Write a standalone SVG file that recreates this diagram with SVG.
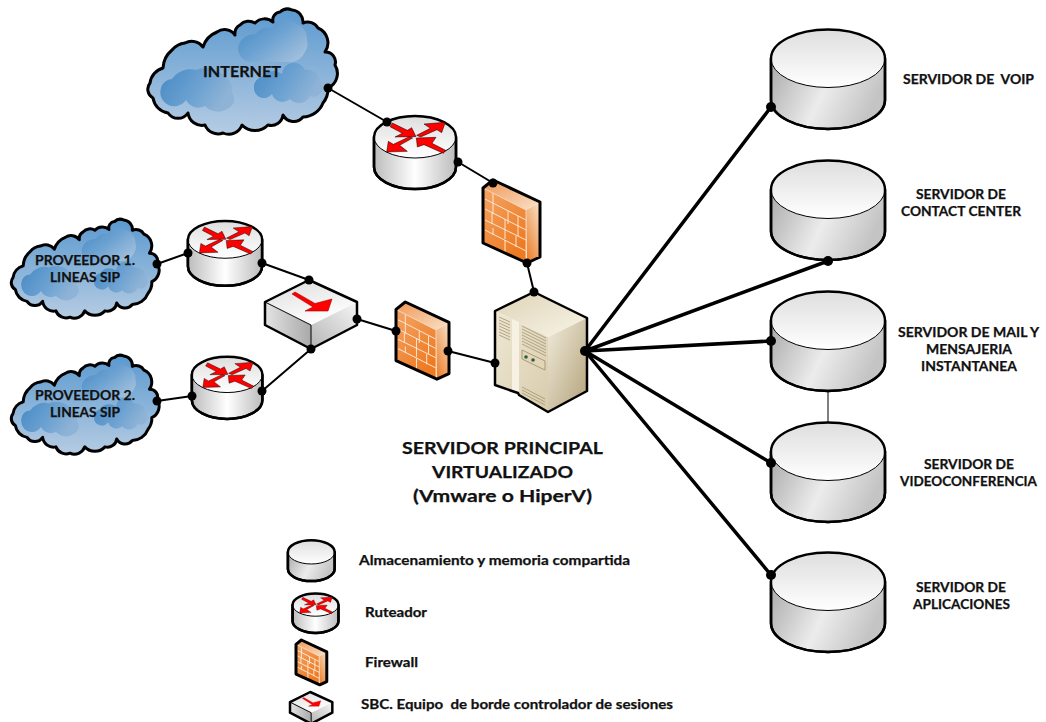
<svg xmlns="http://www.w3.org/2000/svg" width="1046" height="722" viewBox="0 0 1046 722">
<style>
.t{font-family:Lato,"Open Sans","Liberation Sans",sans-serif;font-weight:700;fill:#111;stroke:#111;stroke-width:.25;white-space:pre}
.s13{font-size:13px}.s17{font-size:17px}.s16{font-size:16px}
.ol{stroke:#000;stroke-width:2.5;stroke-linejoin:round;vector-effect:non-scaling-stroke}
.thin{stroke:#000;stroke-width:1;fill:none;vector-effect:non-scaling-stroke}
.c2{stroke:#000;stroke-width:2;fill:none}
.c4{stroke:#000;stroke-width:3.5;fill:none}
.dot{fill:#000}
.brick{stroke:#fde6cf;stroke-width:1;fill:none;vector-effect:non-scaling-stroke}
.vent{stroke:#a2946f;stroke-width:.8;fill:none}
</style>
<defs>
<linearGradient id="cylBody" x1="0" y1="0" x2="1" y2=".3"><stop offset="0" stop-color="#a9a9a9"/><stop offset=".55" stop-color="#ececec"/><stop offset="1" stop-color="#c4c4c4"/></linearGradient>
<linearGradient id="cylTop" x1="0" y1="0" x2="0" y2="1"><stop offset="0" stop-color="#dedede"/><stop offset="1" stop-color="#fff"/></linearGradient>
<linearGradient id="rtBody" x1="0" y1="0" x2="1" y2="0"><stop offset="0" stop-color="#bcbcbc"/><stop offset=".5" stop-color="#fff"/><stop offset="1" stop-color="#bcbcbc"/></linearGradient>
<linearGradient id="cloudBg" x1="0" y1="0" x2="0" y2="1"><stop offset="0" stop-color="#5b99cf"/><stop offset="1" stop-color="#b6cce3"/></linearGradient>
<linearGradient id="blob" x1="0" y1="0" x2="1" y2=".8"><stop offset="0" stop-color="#4689c3"/><stop offset=".5" stop-color="#6ca2d2"/><stop offset="1" stop-color="#a3c0dc"/></linearGradient>
<linearGradient id="blob2" x1="0" y1="0" x2="1" y2=".4"><stop offset="0" stop-color="#4689c3"/><stop offset=".6" stop-color="#6ca2d2"/><stop offset="1" stop-color="#8fb3d6"/></linearGradient>
<linearGradient id="fwFront" x1="0" y1="0" x2=".6" y2="1"><stop offset="0" stop-color="#f3a566"/><stop offset="1" stop-color="#ee7a22"/></linearGradient>
<linearGradient id="fwSide" x1=".2" y1="1" x2=".8" y2="0"><stop offset="0" stop-color="#ee7f2c"/><stop offset="1" stop-color="#f5dcc0"/></linearGradient>
<linearGradient id="fwTop" x1="0" y1="0" x2="1" y2="1"><stop offset="0" stop-color="#f19653"/><stop offset="1" stop-color="#f8e2cb"/></linearGradient>
<linearGradient id="sbTop" x1="0" y1="0" x2=".5" y2="1"><stop offset="0" stop-color="#dcdcdc"/><stop offset="1" stop-color="#fff"/></linearGradient>
<linearGradient id="sbLeft" x1="0" y1="0" x2="1" y2="0"><stop offset="0" stop-color="#e4e4e4"/><stop offset="1" stop-color="#a9a9a9"/></linearGradient>
<linearGradient id="sbRight" x1="0" y1="1" x2="1" y2="0"><stop offset="0" stop-color="#b5b5b5"/><stop offset="1" stop-color="#f6f6f6"/></linearGradient>
<linearGradient id="svTop" x1="0" y1="0" x2="1" y2="1"><stop offset="0" stop-color="#ded3b6"/><stop offset="1" stop-color="#f8f4e8"/></linearGradient>
<linearGradient id="svLeft" x1="0" y1="0" x2="1" y2="1"><stop offset="0" stop-color="#efe8d6"/><stop offset="1" stop-color="#d8ccab"/></linearGradient>
<linearGradient id="svRight" x1="0" y1="0" x2="1" y2="1"><stop offset="0" stop-color="#f1ebdb"/><stop offset="1" stop-color="#b3a27a"/></linearGradient>

<g id="cyl">
<path class="ol" fill="url(#cylBody)" d="M1,29.5V71A57,29 0 0 0 115,71V29.5Z"/>
<ellipse class="ol" style="stroke-width:1" fill="url(#cylTop)" cx="58" cy="29.5" rx="57" ry="29"/>
<path class="ol" fill="none" d="M1,29.5A57,29 0 0 1 115,29.5V71A57,29 0 0 1 1,71Z"/>
</g>

<g id="router">
<path class="ol" fill="url(#rtBody)" d="M1,22V52A41,22 0 0 0 83,52V22Z"/>
<ellipse class="ol" style="stroke-width:1" fill="url(#cylTop)" cx="42" cy="22" rx="41" ry="21"/>
<path class="ol" fill="none" d="M1,22A41,21 0 0 1 83,22V52A41,22 0 0 1 1,52Z"/>
<g transform="scale(.3333) translate(-699 -345)" fill="#f00" stroke="#000" stroke-width="1.500" stroke-linejoin="miter">
<polygon points="757,369 802,391 815,383 828,410 765,411 787,400 750,380"/>
<polygon points="830,406 871,385 852,372 916,367 905,398 891,389 842,411"/>
<polygon points="818,414 779,436 802,454 740,456 745,424 760,433 808,410"/>
<polygon points="917,451 876,430 888,412 829,414 832,441 852,434 910,460"/>
</g>
</g>

<g id="fw">
<path fill="url(#fwFront)" d="M0,8L43,30V82L0,63Z"/>
<path fill="url(#fwSide)" d="M43,30L57,22V77L44,83Z"/>
<path fill="url(#fwTop)" d="M0,8L10,0L57,22L43,30Z"/>
<path class="brick" d="M2,19L43,40M2,29L43,50M2,40L43,60M2,50L43,71M10,13V34M25,31V44M35,36V56M9,33V44M22,39V59M10,55V48M33,56V67M22,60V75"/>
<path class="thin" style="stroke:#f6d3b2" d="M43,30V82M0,8L43,30"/>
<path class="ol" style="stroke-width:3" fill="none" d="M0,8L10,0L57,22V77L44,83L0,63Z"/>
</g>

<g id="sbc">
<path fill="url(#sbLeft)" d="M0,22L46,45V69L0,45Z"/>
<path fill="url(#sbRight)" d="M46,45L92,22V45L46,69Z"/>
<path fill="url(#sbTop)" d="M0,22L44,0L92,22L46,45Z"/>
<path class="thin" d="M0,22L46,45V69"/>
<path class="ol" fill="none" d="M0,22L44,0L92,22V45L46,69L0,45Z"/>
<polygon fill="#f00" stroke="#a00" stroke-width=".6" points="27,14 30,12 50,23.500 67,19 63,31 40,31 48,27"/>
</g>

<g id="cloud">
<path class="ol" style="stroke-width:3" fill="url(#cloudBg)" d="M150,83A18,18 0 0 1 163,68A25,25 0 0 1 172,50A20,20 0 0 1 185,43A14,14 0 0 1 203,47A24,24 0 0 1 217,32A13,13 0 0 1 235,35A10,10 0 0 1 240,25A12,12 0 0 1 255,23A13,13 0 0 1 273,22A8,8 0 0 1 280,12A11,11 0 0 1 292,10A12,12 0 0 1 303,23A12,12 0 0 1 318,28A16,16 0 0 1 325,52A10,10 0 0 1 335,65A16,16 0 0 1 328,88A22,22 0 0 1 323,103A22,22 0 0 1 303,117A12,12 0 0 1 283,115A12,12 0 0 1 268,125A18,18 0 0 1 242,125A14,14 0 0 1 223,133A14,14 0 0 1 205,125A14,14 0 0 1 188,113A12,12 0 0 1 168,113A18,18 0 0 1 153,98A10,10 0 0 1 150,83Z"/>
<path fill="url(#blob)" d="M238,48A17,17 0 0 1 256,34A14,14 0 0 1 272,28A10,10 0 0 1 285,22A12,12 0 0 1 297,24A16,16 0 0 1 307,40A14,14 0 0 1 305,52A18,18 0 0 1 292,62L252,62A14,14 0 0 1 238,48Z"/>
<path fill="url(#blob2)" d="M161,88A12,12 0 0 1 172,79A22,22 0 0 1 196,70A26,26 0 0 1 226,78A14,14 0 0 1 232,92A16,16 0 0 1 234,102A18,18 0 0 1 205,106A14,14 0 0 1 186,100A14,14 0 0 1 161,88Z"/>
<path fill="url(#blob2)" d="M254,87A10,10 0 0 1 262,77A14,14 0 0 1 282,74A12,12 0 0 1 305,70A14,14 0 0 1 321,83A9,9 0 0 1 310,96A12,12 0 0 1 290,99A11,11 0 0 1 272,94A10,10 0 0 1 254,87Z"/>
</g>
</defs>

<g id="internet"><use href="#cloud"/><text class="t s16" x="203" y="77" textLength="78" lengthAdjust="spacingAndGlyphs">INTERNET</text></g>
<g id="proveedor1"><use href="#cloud" transform="translate(13 220) scale(.78 .79) translate(-150 -10)"/>
<text class="t s13" x="35" y="265" textLength="100" lengthAdjust="spacingAndGlyphs">PROVEEDOR 1.</text><text class="t s13" x="50" y="282" textLength="70" lengthAdjust="spacingAndGlyphs">LINEAS SIP</text></g>
<g id="proveedor2"><use href="#cloud" transform="translate(13 356) scale(.78 .79) translate(-150 -10)"/>
<text class="t s13" x="35" y="400" textLength="100" lengthAdjust="spacingAndGlyphs">PROVEEDOR 2.</text><text class="t s13" x="50" y="417" textLength="70" lengthAdjust="spacingAndGlyphs">LINEAS SIP</text></g>

<g id="router-internet"><use href="#router" transform="translate(373 115)"/></g>
<g id="router-1"><use href="#router" transform="translate(187 220) scale(.905 .89)"/></g>
<g id="router-2"><use href="#router" transform="translate(191 356) scale(.86 .85)"/></g>
<g id="firewall-1"><use href="#fw" transform="translate(483 180)"/></g>
<g id="firewall-2"><use href="#fw" transform="translate(396 302) scale(.93)"/></g>
<g id="sbc-main"><use href="#sbc" transform="translate(265 280)"/></g>

<g id="servidor-principal">
<path fill="url(#svTop)" d="M495,311L534,292L587,318L548,337Z"/>
<path fill="url(#svLeft)" d="M495,311L548,337V412L519,395L512,391L495,385Z"/>
<path fill="url(#svRight)" d="M548,337L587,318V391L548,412Z"/>
<path fill="#f6f1e3" d="M512,319L519,322V394L512,391Z"/>
<path class="vent" d="M499,317L510,322M499,320L510,325M499,323L510,328M499,326L510,331M499,329L510,334M499,332L510,337M499,335L510,340M522,326L546,338M522,329L546,341M522,332L546,344M522,335L546,347M522,338L546,350M522,341L546,353M522,344L546,356M522,387L545,399M522,390L545,402M522,393L545,405"/>
<path fill="#e2d6b6" stroke="#9c8d68" stroke-width=".8" d="M522,350L545,361V370L522,359Z"/>
<circle cx="526" cy="357" r="1.800" fill="#2e5a56"/><circle cx="533" cy="360" r="1.800" fill="#2e5a56"/>
<path class="ol" fill="none" d="M534,292L587,318V391L548,412L519,395L518,393L512,391L495,385V311Z"/>
<text class="t s17" x="402" y="454" textLength="201" lengthAdjust="spacingAndGlyphs">SERVIDOR PRINCIPAL</text>
<text class="t s17" x="432" y="478" textLength="141" lengthAdjust="spacingAndGlyphs">VIRTUALIZADO</text>
<text class="t s17" x="413" y="502" textLength="179" lengthAdjust="spacingAndGlyphs">(Vmware o HiperV)</text>
</g>

<g id="srv-voip"><use href="#cyl" transform="translate(770 29)"/><text class="t s13" x="903" y="84" textLength="131" lengthAdjust="spacingAndGlyphs">SERVIDOR DE  VOIP</text></g>
<g id="srv-contact"><use href="#cyl" transform="translate(770 160)"/><text class="t s13" x="916" y="199" textLength="90" lengthAdjust="spacingAndGlyphs">SERVIDOR DE</text><text class="t s13" x="901" y="216" textLength="120" lengthAdjust="spacingAndGlyphs">CONTACT CENTER</text></g>
<g id="srv-mail"><use href="#cyl" transform="translate(770 291)"/><text class="t s13" x="898" y="337" textLength="141" lengthAdjust="spacingAndGlyphs">SERVIDOR DE MAIL Y</text><text class="t s13" x="926" y="354" textLength="86" lengthAdjust="spacingAndGlyphs">MENSAJERIA</text><text class="t s13" x="921" y="371" textLength="96" lengthAdjust="spacingAndGlyphs">INSTANTANEA</text></g>
<g id="srv-video"><use href="#cyl" transform="translate(770 422)"/><text class="t s13" x="924" y="469" textLength="90" lengthAdjust="spacingAndGlyphs">SERVIDOR DE</text><text class="t s13" x="900" y="486" textLength="137" lengthAdjust="spacingAndGlyphs">VIDEOCONFERENCIA</text></g>
<g id="srv-apps"><use href="#cyl" transform="translate(770 552)"/><text class="t s13" x="916" y="592" textLength="90" lengthAdjust="spacingAndGlyphs">SERVIDOR DE</text><text class="t s13" x="913" y="609" textLength="97" lengthAdjust="spacingAndGlyphs">APLICACIONES</text></g>

<g id="leg-storage"><use href="#cyl" transform="translate(287.500 540) scale(.41 .41)"/><text class="t s13" x="359" y="565" textLength="271" lengthAdjust="spacingAndGlyphs">Almacenamiento y memoria compartida</text></g>
<g id="leg-router"><use href="#router" transform="translate(292 593) scale(.56 .54)"/><text class="t s13" x="365" y="617" textLength="62" lengthAdjust="spacingAndGlyphs">Ruteador</text></g>
<g id="leg-firewall"><use href="#fw" transform="translate(296 640) scale(.54)"/><text class="t s13" x="365" y="667" textLength="53" lengthAdjust="spacingAndGlyphs">Firewall</text></g>
<g id="leg-sbc"><use href="#sbc" transform="translate(290 692) scale(.46)"/><text class="t s13" x="361" y="709" textLength="312" lengthAdjust="spacingAndGlyphs">SBC. Equipo  de borde controlador de sesiones</text></g>

<g id="connectors">
<path class="c2" d="M328,88L387,122M458,162L493,183M527,263L534,292M157,264L188,253M262,263L309,280M157,401L192,396M262,391L311,349M357,319L396,331M448,351L495,363"/>
<path class="thin" d="M828,391V422"/>
<path class="c4" d="M585,351L771,107M585,351L828,261M585,351L771,341M585,351L771,463M585,351L771,575"/>
<g class="dot">
<circle cx="328" cy="88" r="4.500"/><circle cx="387" cy="122" r="4.500"/><circle cx="458" cy="162" r="4.500"/><circle cx="493" cy="183" r="4.500"/><circle cx="527" cy="263" r="4.500"/><circle cx="534" cy="292" r="4.500"/>
<circle cx="157" cy="264" r="4.500"/><circle cx="188" cy="253" r="4.500"/><circle cx="262" cy="263" r="4.500"/><circle cx="309" cy="280" r="4.500"/>
<circle cx="157" cy="401" r="4.500"/><circle cx="192" cy="396" r="4.500"/><circle cx="262" cy="391" r="4.500"/><circle cx="311" cy="349" r="4.500"/>
<circle cx="357" cy="319" r="4.500"/><circle cx="396" cy="331" r="4.500"/><circle cx="448" cy="351" r="4.500"/><circle cx="495" cy="363" r="4.500"/><circle cx="585" cy="351" r="5"/>
<circle cx="771" cy="107" r="5"/><circle cx="828" cy="261" r="5"/><circle cx="771" cy="341" r="5"/><circle cx="771" cy="463" r="5"/><circle cx="771" cy="575" r="5"/>
</g>
</g>
</svg>
